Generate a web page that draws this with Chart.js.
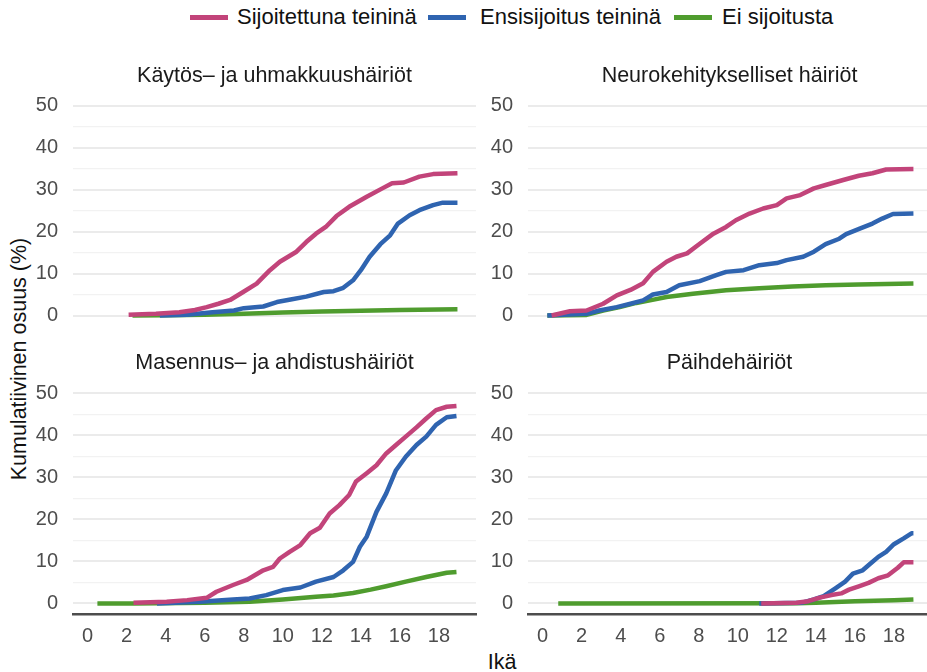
<!DOCTYPE html>
<html>
<head>
<meta charset="utf-8">
<script src="https://cdn.jsdelivr.net/npm/chart.js@4.4.1/dist/chart.umd.min.js"></script>
<style>
  html, body { margin: 0; padding: 0; width: 927px; height: 672px; overflow: hidden; background: #fff; }
  body { position: relative; font-family: "Liberation Sans", Arial, Helvetica, sans-serif; }
  canvas { position: absolute; }
  .sw { position: absolute; height: 5px; width: 38px; top: 15px; }
  .lt { position: absolute; top: 5px; font-size: 22px; line-height: 24px; color: #111; white-space: nowrap; }
  #ytitle { position: absolute; width: 400px; left: -181px; top: 346px; text-align: center; font-size: 21.5px; line-height: 26px; color: #111; transform: rotate(-90deg); white-space: nowrap; }
  #xtitle { position: absolute; width: 200px; left: 402px; top: 649px; text-align: center; font-size: 21.5px; line-height: 26px; color: #111; }
</style>
</head>
<body>
<div class="sw" style="left:190px;background:#C2447A"></div><div class="lt" style="left:237px">Sijoitettuna teininä</div>
<div class="sw" style="left:428px;background:#2F64B0"></div><div class="lt" style="left:480px">Ensisijoitus teininä</div>
<div class="sw" style="left:674px;background:#4F9C2E"></div><div class="lt" style="left:722px">Ei sijoitusta</div>
<div id="ytitle">Kumulatiivinen osuus (%)</div>
<div id="xtitle">Ikä</div>

<canvas id="p1" width="549" height="326" style="left:0px;top:40px"></canvas>
<canvas id="p2" width="549" height="326" style="left:455px;top:40px"></canvas>
<canvas id="p3" width="549" height="324" style="left:0px;top:330px"></canvas>
<canvas id="p4" width="549" height="324" style="left:455px;top:330px"></canvas>

<script>
const FONT = '"Liberation Sans", Arial, Helvetica, sans-serif';

const seriesNames = ['Sijoitettuna teininä', 'Ensisijoitus teininä', 'Ei sijoitusta'];
const seriesColors = ['#C2447A', '#2F64B0', '#4F9C2E'];
const panelTitles = ['Käytös– ja uhmakkuushäiriöt', 'Neurokehitykselliset häiriöt', 'Masennus– ja ahdistushäiriöt', 'Päihdehäiriöt'];
const xTickValues = [0, 2, 4, 6, 8, 10, 12, 14, 16, 18];
const yGridValues = [0, 5, 10, 15, 20, 25, 30, 35, 40, 45, 50];

// Käytös- ja uhmakkuushäiriöt
const kaySijAge = [2.1, 3.5, 4.7, 5.5, 6.1, 6.7, 7.3, 7.97, 8.66, 9.34, 9.85, 10.7, 11.2, 11.7, 12.2, 12.75, 13.4, 14.3, 15.1, 15.6, 16.2, 17.0, 17.7, 18.95];
const kaySijVal = [0.2, 0.4, 0.8, 1.3, 2.0, 2.8, 3.7, 5.6, 7.6, 10.8, 12.8, 15.2, 17.5, 19.5, 21.1, 23.7, 25.9, 28.3, 30.3, 31.5, 31.7, 33.1, 33.7, 33.9];
const kayEnsAge = [3.7, 5.1, 6.4, 7.5, 8.0, 9.0, 9.7, 10.4, 11.2, 12.1, 12.6, 13.1, 13.6, 14.0, 14.45, 15.0, 15.5, 15.9, 16.5, 17.0, 17.7, 18.2, 18.95];
const kayEnsVal = [0, 0.2, 0.8, 1.2, 1.75, 2.15, 3.2, 3.8, 4.5, 5.6, 5.8, 6.6, 8.4, 10.8, 14.0, 17.0, 19.1, 21.9, 23.9, 25.1, 26.3, 26.9, 26.9];
const kayEiAge = [2.3, 4.0, 6.0, 8.0, 10.0, 12.0, 14.0, 16.0, 18.0, 18.95];
const kayEiVal = [0, 0.05, 0.2, 0.4, 0.7, 0.95, 1.15, 1.3, 1.45, 1.5];

// Neurokehitykselliset häiriöt
const neuSijAge = [0.46, 1.4, 2.25, 3.1, 3.8, 4.5, 5.15, 5.65, 6.35, 6.85, 7.4, 8.05, 8.75, 9.4, 9.9, 10.6, 11.3, 12.0, 12.5, 13.2, 13.9, 14.5, 15.4, 16.2, 16.9, 17.6, 19.0];
const neuSijVal = [0, 1.0, 1.2, 2.8, 4.8, 6.1, 7.7, 10.4, 12.8, 14.0, 14.8, 17.1, 19.5, 21.1, 22.7, 24.3, 25.5, 26.3, 27.9, 28.7, 30.3, 31.1, 32.3, 33.3, 33.9, 34.8, 34.9];
const neuEnsAge = [0.24, 2.25, 2.9, 3.8, 4.5, 5.15, 5.65, 6.35, 7.0, 8.05, 8.9, 9.4, 10.3, 11.1, 12.0, 12.5, 13.35, 13.9, 14.5, 15.2, 15.55, 16.25, 16.9, 17.4, 17.95, 19.0];
const neuEnsVal = [0, 0.4, 1.2, 2.0, 2.8, 3.6, 5.0, 5.6, 7.2, 8.2, 9.6, 10.4, 10.8, 12.0, 12.5, 13.2, 14.0, 15.2, 17.0, 18.3, 19.4, 20.7, 21.9, 23.1, 24.2, 24.3];
const neuEiAge = [0.24, 2.25, 3.1, 3.95, 4.8, 5.5, 6.35, 7.7, 9.4, 11.1, 12.8, 14.5, 16.2, 19.0];
const neuEiVal = [0, 0.15, 1.2, 2.0, 3.0, 3.6, 4.4, 5.2, 6.0, 6.5, 6.9, 7.2, 7.4, 7.6];

// Masennus- ja ahdistushäiriöt
const masSijAge = [2.35, 4.05, 5.1, 6.1, 6.6, 7.45, 8.15, 9.0, 9.5, 9.85, 10.35, 10.9, 11.4, 11.9, 12.4, 12.9, 13.4, 13.75, 14.3, 14.8, 15.3, 15.8, 16.3, 16.85, 17.35, 17.85, 18.4, 18.9];
const masSijVal = [0.2, 0.4, 0.8, 1.35, 2.8, 4.4, 5.6, 7.9, 8.7, 10.7, 12.3, 13.9, 16.7, 18.0, 21.4, 23.4, 25.8, 29.0, 31.0, 32.9, 35.7, 37.7, 39.7, 41.9, 44.0, 46.0, 46.8, 47.0];
const masEnsAge = [3.55, 5.75, 7.45, 8.3, 9.15, 10.0, 10.9, 11.7, 12.6, 13.1, 13.6, 13.95, 14.3, 14.8, 15.3, 15.8, 16.3, 16.85, 17.35, 17.85, 18.4, 18.9];
const masEnsVal = [0, 0.4, 0.95, 1.2, 2.0, 3.2, 3.8, 5.2, 6.3, 7.9, 9.9, 13.5, 15.9, 21.8, 26.2, 31.7, 34.9, 37.7, 39.7, 42.5, 44.3, 44.6];
const masEiAge = [0.5, 2.35, 6.0, 8.3, 10.0, 11.7, 12.6, 13.6, 14.5, 15.3, 16.3, 17.35, 18.4, 18.9];
const masEiVal = [0, 0, 0.2, 0.4, 0.95, 1.6, 1.9, 2.5, 3.3, 4.1, 5.2, 6.3, 7.3, 7.5];

// Päihdehäiriöt
const paiSijAge = [11.2, 13.0, 13.6, 14.2, 14.8, 15.3, 15.7, 16.2, 16.7, 17.2, 17.7, 18.2, 18.5, 19.0];
const paiSijVal = [0, 0.2, 0.55, 1.4, 2.0, 2.4, 3.3, 4.1, 4.9, 6.0, 6.7, 8.5, 9.8, 9.8];
const paiEnsAge = [11.1, 13.3, 13.9, 14.4, 15.0, 15.5, 15.9, 16.4, 16.8, 17.2, 17.6, 18.0, 18.5, 18.9, 19.0];
const paiEnsVal = [0, 0.2, 0.95, 1.75, 3.6, 5.2, 7.1, 7.9, 9.5, 11.1, 12.3, 14.1, 15.5, 16.7, 16.7];
const paiEiAge = [0.8, 13.0, 14.0, 16.0, 18.0, 19.0];
const paiEiVal = [0, 0.05, 0.15, 0.55, 0.8, 0.95];

const panels = [
  { canvas: 'p1', title: panelTitles[0], bottomRow: false, padTop: 23.1, padBottom: 6.3,
    series: [[kaySijAge, kaySijVal], [kayEnsAge, kayEnsVal], [kayEiAge, kayEiVal]] },
  { canvas: 'p2', title: panelTitles[1], bottomRow: false, padTop: 23.1, padBottom: 6.3,
    series: [[neuSijAge, neuSijVal], [neuEnsAge, neuEnsVal], [neuEiAge, neuEiVal]] },
  { canvas: 'p3', title: panelTitles[2], bottomRow: true, padTop: 20.1, padBottom: 6.9,
    series: [[masSijAge, masSijVal], [masEnsAge, masEnsVal], [masEiAge, masEiVal]] },
  { canvas: 'p4', title: panelTitles[3], bottomRow: true, padTop: 20.1, padBottom: 6.9,
    series: [[paiSijAge, paiSijVal], [paiEnsAge, paiEnsVal], [paiEiAge, paiEiVal]] }
];

panels.forEach(p => {
  new Chart(document.getElementById(p.canvas), {
    type: 'line',
    data: {
      datasets: p.series.map((s, i) => ({
        label: seriesNames[i],
        data: s[0].map((age, j) => ({ x: age, y: s[1][j] })),
        borderColor: seriesColors[i],
        borderWidth: 4.5,
        borderJoinStyle: 'round',
        borderCapStyle: 'butt',
        pointRadius: 0,
        tension: 0,
        fill: false
      }))
    },
    options: {
      responsive: false,
      animation: false,
      events: [],
      layout: { padding: { left: 0, right: 0, top: 0, bottom: p.bottomRow ? 0 : 40 } },
      plugins: {
        legend: { display: false },
        tooltip: { enabled: false },
        title: {
          display: true,
          text: p.title,
          color: '#1a1a1a',
          font: { family: FONT, size: 21.5, weight: 'normal', lineHeight: 1.2 },
          padding: { top: p.padTop, bottom: p.padBottom }
        }
      },
      scales: {
        x: {
          type: 'linear',
          min: -0.75,
          max: 19.9,
          display: p.bottomRow,
          grid: { display: false, drawTicks: false },
          border: { display: true, color: '#4d4d4d', width: 2.5 },
          afterBuildTicks: ax => { ax.ticks = xTickValues.map(v => ({ value: v })); },
          afterFit: ax => { if (p.bottomRow) ax.height = 40; },
          ticks: { color: '#4d4d4d', font: { family: FONT, size: 20 }, padding: 10, maxRotation: 0, autoSkip: false }
        },
        y: {
          type: 'linear',
          position: 'left',
          min: -2.5,
          max: 52.5,
          afterBuildTicks: ax => { ax.ticks = yGridValues.map(v => ({ value: v })); },
          afterFit: ax => { ax.width = 73; },
          grid: {
            drawTicks: false,
            color: c => (c.tick && c.tick.value % 10 === 0) ? '#ebebeb' : '#f2f2f2',
            lineWidth: c => (c.tick && c.tick.value % 10 === 0) ? 2 : 1.2
          },
          border: { display: false },
          ticks: {
            color: '#4d4d4d',
            font: { family: FONT, size: 20 },
            padding: 15,
            autoSkip: false,
            callback: v => (v % 10 === 0 ? String(v) : '')
          }
        },
        // empty right-hand margin so the panel title centres over the plot
        yRight: {
          type: 'linear',
          position: 'right',
          min: -2.5,
          max: 52.5,
          display: true,
          grid: { display: false, drawTicks: false },
          border: { display: false },
          ticks: { display: false },
          afterFit: ax => { ax.width = 73; }
        }
      }
    }
  });
});
</script>
</body>
</html>
